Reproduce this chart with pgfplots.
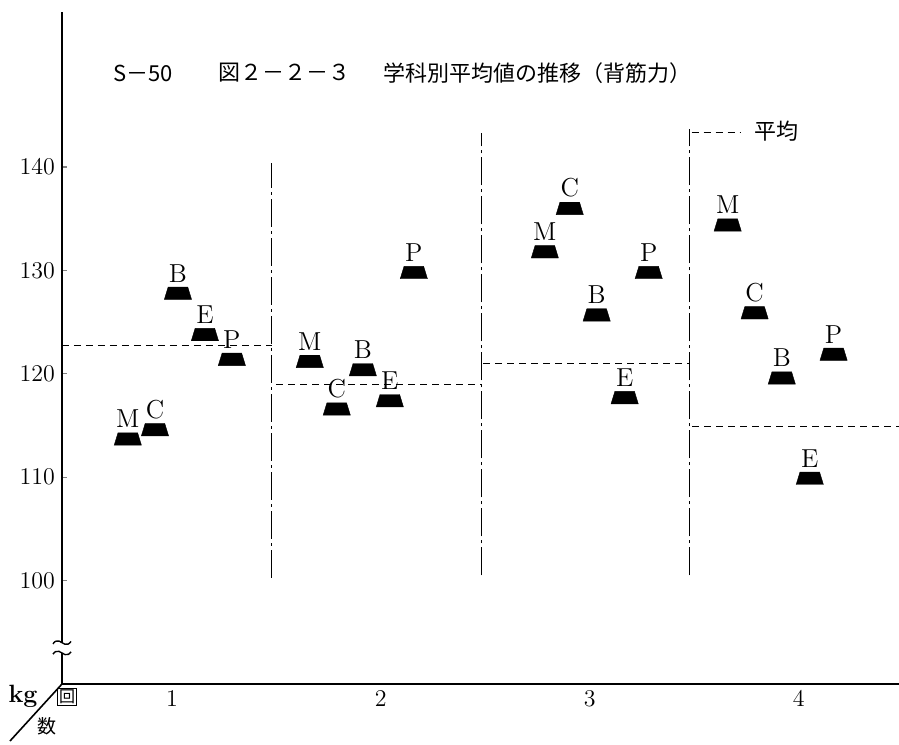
\documentclass[border=0pt]{standalone}
\usepackage{fontspec}
\newfontfamily\cjk{Noto Sans CJK JP}
\usepackage{pgfplots}
\usepackage{pgfplotstable}
\pgfplotsset{compat=1.18}
\usetikzlibrary{calc}

\pgfdeclareplotmark{trap}{%
  \pgfpathmoveto{\pgfpoint{-6.8pt}{-3.1pt}}%
  \pgfpathlineto{\pgfpoint{6.8pt}{-3.1pt}}%
  \pgfpathlineto{\pgfpoint{4.9pt}{3.1pt}}%
  \pgfpathlineto{\pgfpoint{-4.9pt}{3.1pt}}%
  \pgfpathclose
  \pgfusepathqfillstroke}

\pgfplotstableread{
x y lab
0.789 113.7 M
0.919 114.6 C
1.029 127.8 B
1.158 123.8 E
1.287 121.4 P
}\roundone
\pgfplotstableread{
x y lab
1.660 121.2 M
1.789 116.6 C
1.914 120.4 B
2.043 117.4 E
2.158 129.8 P
}\roundtwo
\pgfplotstableread{
x y lab
2.785 131.8 M
2.904 136.0 C
3.033 125.7 B
3.167 117.7 E
3.282 129.8 P
}\roundthree
\pgfplotstableread{
x y lab
3.660 134.4 M
3.789 125.9 C
3.919 119.6 B
4.053 109.9 E
4.167 121.9 P
}\roundfour

\begin{document}
\begin{tikzpicture}
\begin{axis}[
  scale only axis,
  width=418.5pt, height=336pt,
  xmin=0.474, xmax=4.48,
  ymin=90, ymax=155,
  clip=false,
  axis x line=bottom, axis y line=left,
  axis line style={-, line width=0.8pt},
  xtick={1,2,3,4},
  x tick style={draw=none},
  ytick={100,110,120,130,140},
  tick align=inside,
  major tick length=2.5pt,
  y tick style={line width=0.6pt},
  ticklabel style={font=\fontsize{12.5}{14}\selectfont},
  every node near coord/.append style={anchor=south, inner sep=0pt, yshift=5.4pt, font=\fontsize{13}{14}\selectfont},
  mark options={fill=black, draw=black, line width=0.2pt},
]
\coordinate (O) at (rel axis cs:0,0);
\addplot[only marks, mark=trap, nodes near coords, point meta=explicit symbolic] table[x=x, y=y, meta=lab] {\roundone};
\addplot[only marks, mark=trap, nodes near coords, point meta=explicit symbolic] table[x=x, y=y, meta=lab] {\roundtwo};
\addplot[only marks, mark=trap, nodes near coords, point meta=explicit symbolic] table[x=x, y=y, meta=lab] {\roundthree};
\addplot[only marks, mark=trap, nodes near coords, point meta=explicit symbolic] table[x=x, y=y, meta=lab] {\roundfour};

% average lines
\addplot[black, line width=0.5pt, dash pattern=on 3.5pt off 2.5pt] coordinates {(0.474,122.7) (1.478,122.7)};
\addplot[black, line width=0.5pt, dash pattern=on 3.5pt off 2.5pt] coordinates {(1.50,119.0) (2.483,119.0)};
\addplot[black, line width=0.5pt, dash pattern=on 3.5pt off 2.5pt] coordinates {(2.49,121.0) (3.478,121.0)};
\addplot[black, line width=0.5pt, dash pattern=on 3.5pt off 2.5pt] coordinates {(3.49,114.9) (4.48,114.9)};

% separators
\addplot[black, line width=0.7pt, dash pattern=on 14pt off 2pt on 1.5pt off 2pt] coordinates {(1.478,100.3) (1.478,140.4)};
\addplot[black, line width=0.7pt, dash pattern=on 14pt off 2pt on 1.5pt off 2pt] coordinates {(2.483,100.5) (2.483,143.3)};
\addplot[black, line width=0.7pt, dash pattern=on 14pt off 2pt on 1.5pt off 2pt] coordinates {(3.478,100.5) (3.478,143.7)};

% legend
\addplot[black, line width=0.5pt, dash pattern=on 3.5pt off 2.5pt] coordinates {(3.488,143.3) (3.718,143.3)};
\node[anchor=west, inner sep=0pt, font=\cjk\fontsize{11}{12}\selectfont] at (axis cs:3.785,143.5) {平均};

% title
\node[anchor=west, inner sep=0pt, font=\cjk\fontsize{11}{12}\selectfont] at (axis cs:0.718,149.1) {S－50};
\node[anchor=west, inner sep=0pt, font=\cjk\fontsize{11}{12}\selectfont] at (axis cs:1.220,149.1) {図２－２－３};
\node[anchor=west, inner sep=0pt, font=\cjk\fontsize{11}{12}\selectfont] at (axis cs:2.010,149.1) {学科別平均値の推移（背筋力）};

% axis break
\coordinate (BrA) at (axis cs:0.474,94.0);
\coordinate (BrB) at (axis cs:0.474,93.0);
\end{axis}

\fill[white] ($(BrB)+(-1.5pt,0)$) rectangle ($(BrA)+(1.5pt,0)$);
\foreach \c in {BrA,BrB}{
  \draw[line width=0.7pt] ($(\c)+(-4.5pt,-0.6pt)$) .. controls +(1.2pt,1.6pt) and +(-1.6pt,0pt) .. ($(\c)+(-1.5pt,0.8pt)$)
     .. controls +(1.6pt,0pt) and +(-1.6pt,0pt) .. ($(\c)+(1.5pt,-0.8pt)$)
     .. controls +(1.6pt,0pt) and +(-1.2pt,-1.6pt) .. ($(\c)+(4.5pt,0.6pt)$);
}

% corner labels
\draw[line width=0.8pt] (O) -- ++(-26pt,-28.5pt);
\node[font=\bfseries\fontsize{12.5}{14}\selectfont, inner sep=0pt] at ($(O)+(-19.5pt,-6pt)$) {kg};
\node[draw, line width=0.5pt, inner sep=0.7pt, font=\cjk\fontsize{8}{9}\selectfont] at ($(O)+(2.5pt,-6.5pt)$) {回};
\node[inner sep=0pt, font=\cjk\fontsize{9.5}{10}\selectfont] at ($(O)+(-7.5pt,-21pt)$) {数};

\pgfresetboundingbox
\path (O) ++(-31pt,-30pt) rectangle ++(449.5pt,372pt);
\end{tikzpicture}
\end{document}
